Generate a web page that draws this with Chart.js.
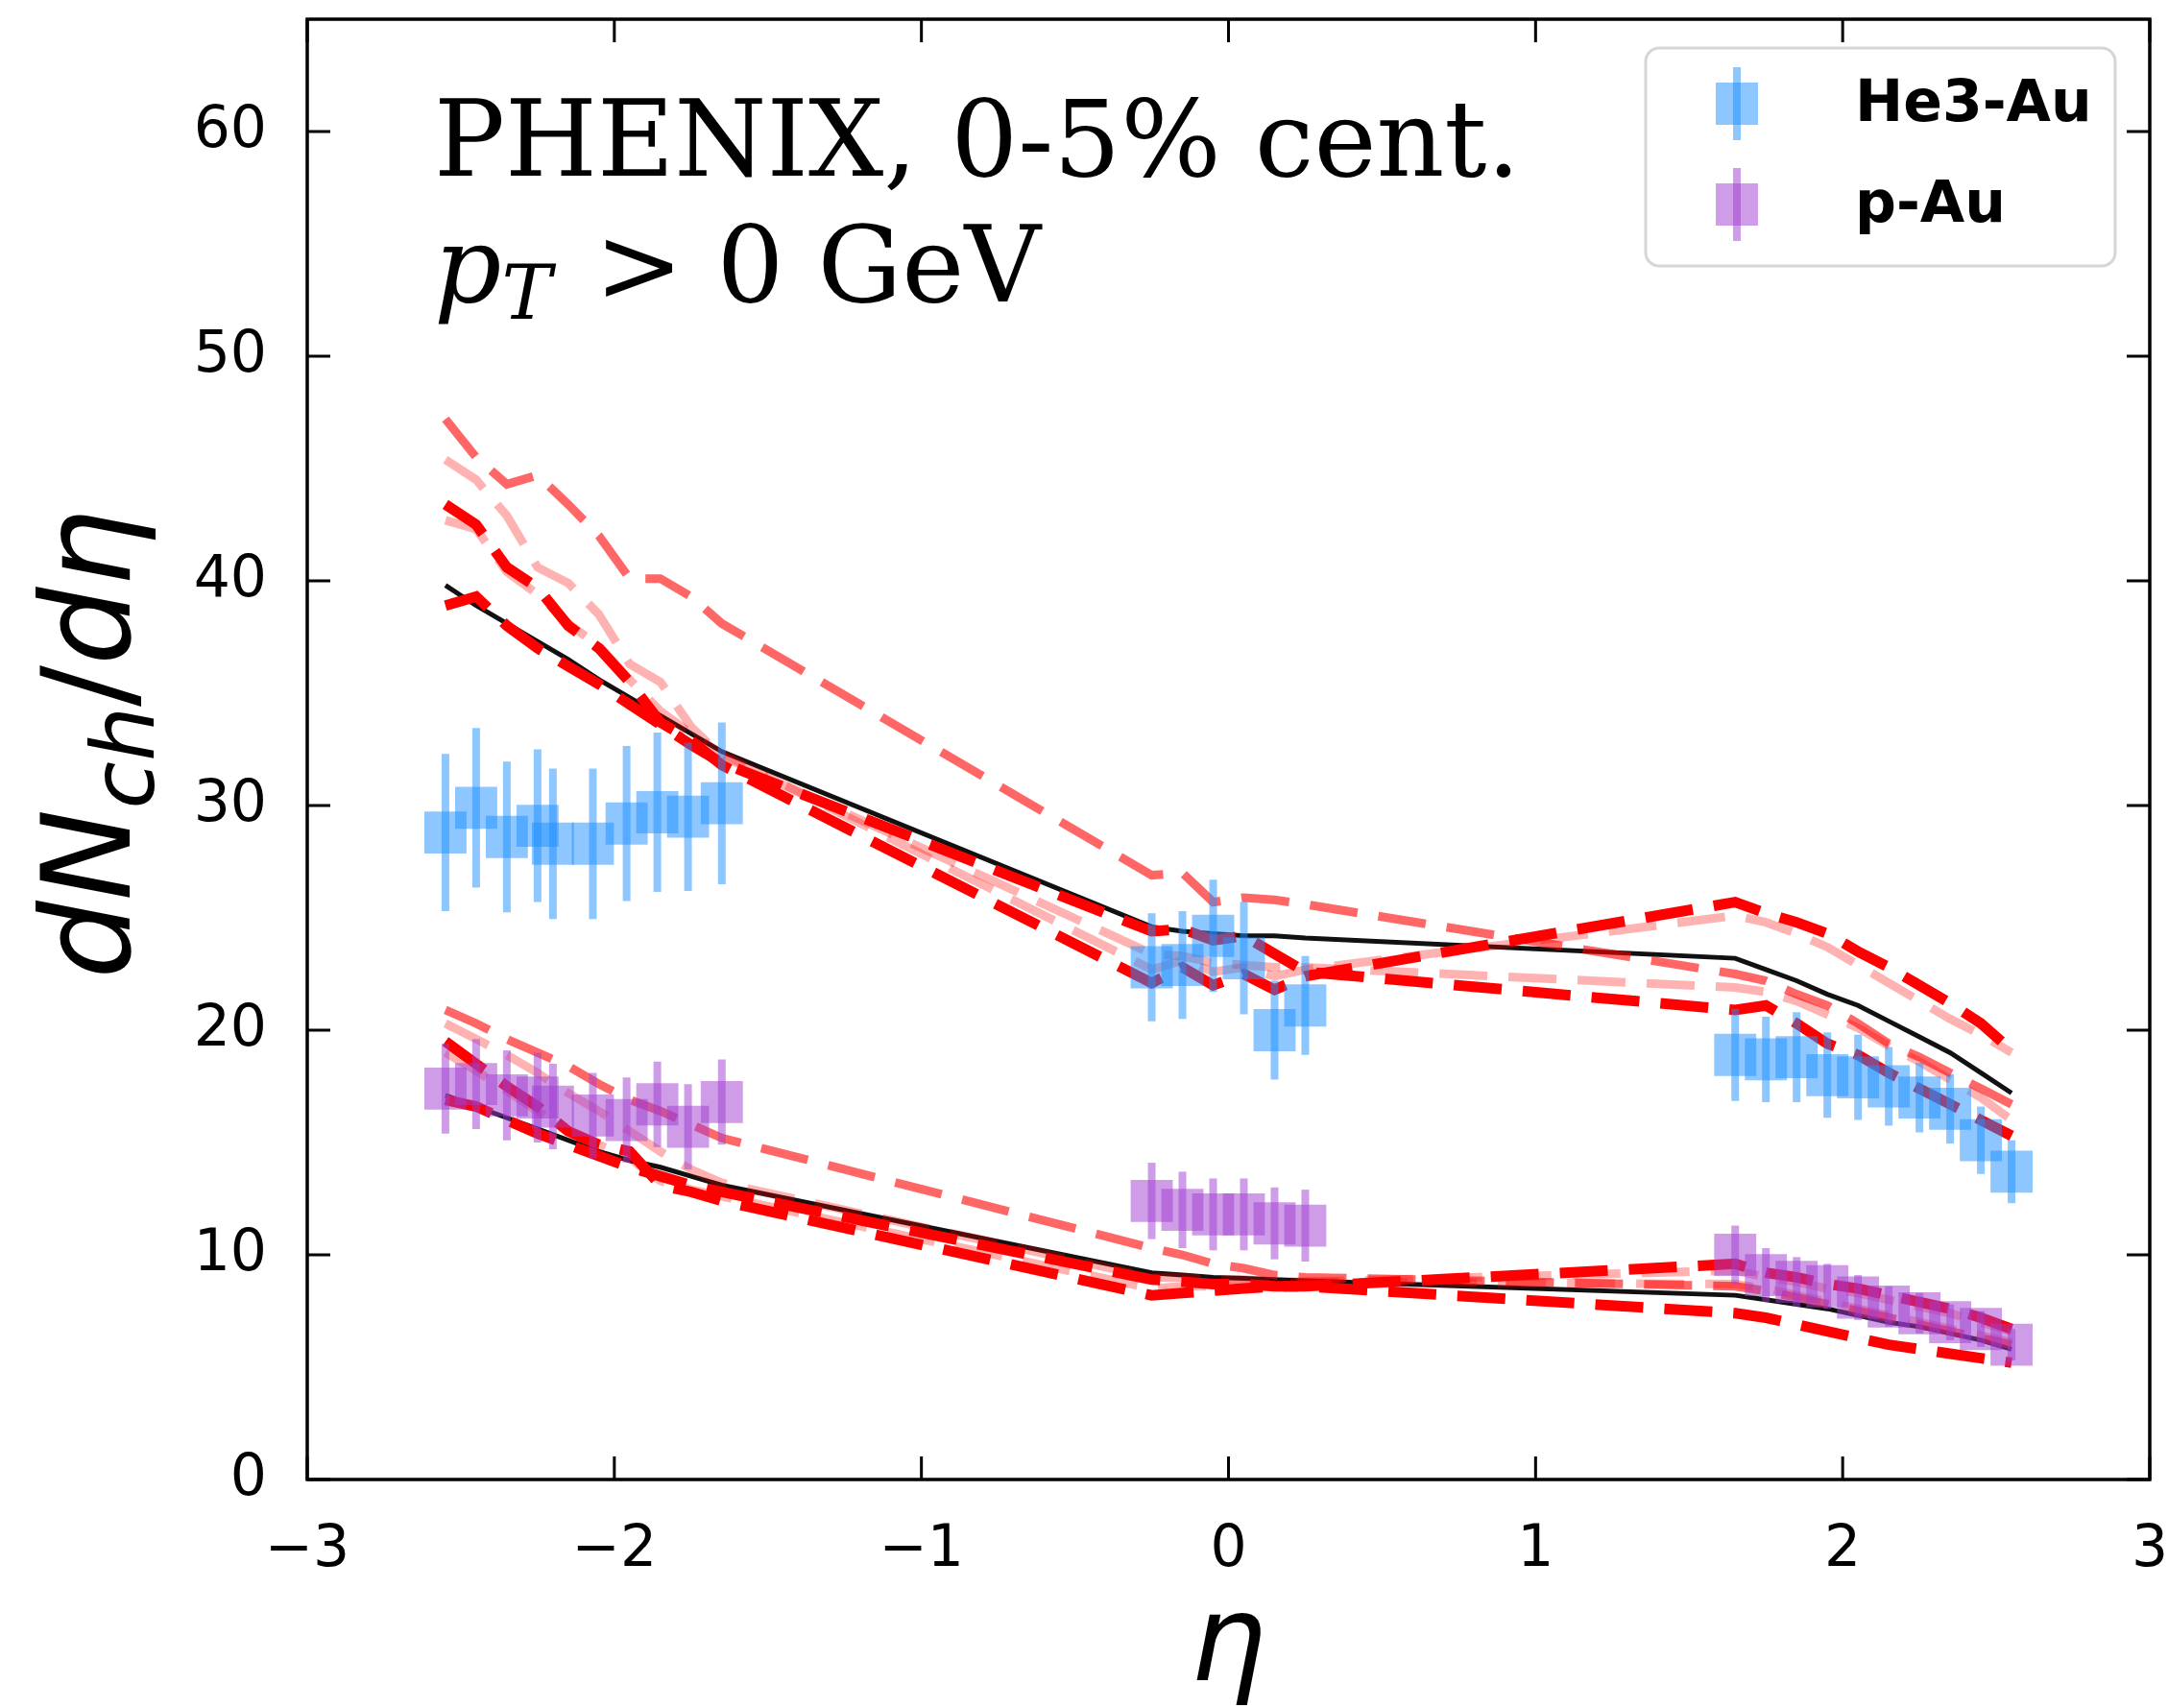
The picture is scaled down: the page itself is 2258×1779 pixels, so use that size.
<!DOCTYPE html>
<html>
<head>
<meta charset="utf-8">
<script src="https://cdn.jsdelivr.net/npm/chart.js@4"></script>
<style>
  html, body { margin: 0; padding: 0; background: #fff; }
</style>
</head>
<body>
<canvas id="chart" width="2258" height="1779"></canvas>
<script>
// axis ticks
const xTicks = [-3, -2, -1, 0, 1, 2, 3];
const yTicks = [0, 10, 20, 30, 40, 50, 60];

// PHENIX points (eta, value, error)
const dataEta = [-2.55, -2.45, -2.35, -2.25, -2.2, -2.07, -1.96, -1.86, -1.76, -1.65,
                 -0.25, -0.15, -0.05, 0.05, 0.15, 0.25,
                 1.65, 1.75, 1.85, 1.95, 2.05, 2.15, 2.25, 2.35, 2.45, 2.55];
const heVal = [28.8, 29.9, 28.6, 29.1, 28.3, 28.3, 29.2, 29.7, 29.5, 30.1,
               22.8, 22.9, 24.2, 23.2, 20.0, 21.1,
               18.9, 18.7, 18.8, 18.0, 17.9, 17.5, 17.0, 16.5, 15.1, 13.7];
const heErr = [3.5, 3.55, 3.35, 3.4, 3.35, 3.35, 3.45, 3.55, 3.3, 3.6,
               2.4, 2.4, 2.5, 2.5, 2.2, 2.2,
               2.05, 1.9, 2.0, 1.9, 1.9, 1.75, 1.55, 1.55, 1.5, 1.4];
const pVal = [17.4, 17.6, 17.1, 17.0, 16.6, 16.2, 16.0, 16.7, 15.7, 16.8,
              12.4, 12.0, 11.8, 11.8, 11.4, 11.3,
              10.0, 9.1, 8.8, 8.6, 8.1, 7.7, 7.4, 7.0, 6.7, 6.0];
const pErr = [2.0, 2.0, 2.0, 2.0, 1.9, 1.9, 1.9, 1.9, 1.9, 1.9,
              1.7, 1.7, 1.6, 1.6, 1.6, 1.6,
              1.3, 1.2, 1.1, 1.0, 1.0, 0.9, 0.9, 0.8, 0.8, 0.7];

// model curves, evaluated at these eta
const modelEta = [-2.55, -2.45, -2.35, -2.25, -2.15, -2.05, -1.95, -1.85, -1.75, -1.65,
                  -0.25, -0.15, -0.05, 0.05, 0.15, 0.25,
                  1.65, 1.75, 1.85, 1.95, 2.05, 2.15, 2.25, 2.35, 2.45, 2.55];

const heBlack  = [39.8, 38.9, 38.1, 37.3, 36.5, 35.6, 34.8, 34.0, 33.2, 32.4,
                  24.6, 24.4, 24.3, 24.2, 24.2, 24.1,
                  23.2, 22.7, 22.2, 21.6, 21.1, 20.4, 19.7, 19.0, 18.1, 17.2];
const heRedA   = [38.9, 39.3, 38.0, 37.0, 36.2, 35.4, 34.5, 33.6, 32.7, 31.9,
                  24.4, 24.5, 24.0, 24.2, 23.4, 22.6,
                  20.9, 21.1, 20.3, 19.4, 18.9, 18.1, 17.4, 16.7, 16.0, 15.3];
const heRedB   = [43.4, 42.5, 40.6, 39.7, 38.0, 37.0, 35.5, 33.7, 32.9, 31.8,
                  22.1, 22.8, 22.0, 22.5, 21.8, 22.4,
                  25.7, 25.2, 24.8, 24.3, 23.5, 22.8, 22.0, 21.2, 20.3, 19.1];
const heSalmon = [47.2, 45.5, 44.3, 44.7, 43.4, 42.0, 40.1, 40.1, 39.3, 38.1,
                  26.9, 27.0, 25.7, 25.9, 25.8, 25.6,
                  22.5, 22.2, 21.6, 21.1, 20.3, 19.4, 18.8, 18.1, 17.4, 16.7];
const hePinkA  = [45.4, 44.5, 42.9, 40.6, 39.9, 38.5, 36.3, 35.5, 33.5, 32.2,
                  23.4, 23.3, 23.0, 22.9, 22.8, 22.8,
                  21.9, 21.7, 21.3, 20.7, 20.1, 19.3, 18.6, 17.8, 17.0, 16.0];
const hePinkB  = [42.7, 42.3, 40.4, 39.4, 38.1, 37.1, 35.6, 34.2, 33.2, 32.3,
                  22.7, 23.1, 22.6, 22.8, 22.4, 22.7,
                  25.1, 24.8, 24.3, 23.7, 22.9, 22.1, 21.3, 20.5, 19.8, 19.0];

const pBlack  = [17.1, 16.6, 16.1, 15.6, 15.1, 14.6, 14.2, 13.9, 13.5, 13.1,
                 9.2, 9.1, 9.0, 8.95, 8.9, 8.85,
                 8.2, 8.0, 7.8, 7.6, 7.3, 7.0, 6.8, 6.5, 6.2, 5.8];
const pRedA   = [16.9, 16.6, 16.0, 15.4, 14.9, 14.4, 13.9, 13.5, 13.1, 12.8,
                 8.9, 8.8, 8.7, 8.7, 8.6, 8.6,
                 7.4, 7.2, 6.9, 6.6, 6.3, 6.0, 5.8, 5.6, 5.4, 5.2];
const pRedB   = [19.5, 18.5, 17.5, 16.6, 15.5, 14.9, 14.6, 13.1, 12.8, 12.4,
                 8.2, 8.3, 8.4, 8.5, 8.6, 8.6,
                 9.6, 9.2, 9.0, 8.7, 8.5, 8.2, 7.9, 7.6, 7.2, 6.7];
const pSalmon = [20.9, 20.3, 19.6, 19.0, 18.4, 17.6, 16.9, 16.4, 15.8, 15.2,
                 10.3, 10.0, 9.6, 9.4, 9.1, 9.0,
                 8.6, 8.4, 8.1, 7.8, 7.5, 7.2, 6.9, 6.6, 6.3, 6.0];
const pPinkA  = [20.3, 19.6, 18.9, 18.1, 17.2, 16.4, 15.5, 14.6, 13.8, 13.2,
                 9.0, 9.0, 8.9, 8.9, 8.8, 8.8,
                 8.7, 8.5, 8.2, 7.9, 7.6, 7.3, 7.0, 6.7, 6.4, 6.1];
const pPinkB  = [19.0, 18.2, 17.3, 16.4, 15.5, 14.9, 14.3, 13.3, 12.9, 12.6,
                 8.5, 8.6, 8.6, 8.7, 8.7, 8.8,
                 9.3, 9.0, 8.8, 8.5, 8.3, 8.0, 7.7, 7.4, 7.0, 6.6];

const heColor = 'rgba(30,144,255,0.5)';
const pColor = 'rgba(160,60,210,0.5)';
const red = 'rgb(255,0,0)';
const salmon = 'rgba(255,0,0,0.6)';
const pink = 'rgba(255,0,0,0.3)';

function modelLine(vals, color, width, dashed, order) {
  return {
    type: 'line',
    data: modelEta.map((x, i) => ({ x: x, y: vals[i] })),
    borderColor: color,
    borderWidth: width,
    borderDash: dashed ? [50, 22] : [],
    pointRadius: 0,
    fill: false,
    tension: 0,
    order: order
  };
}

function points(vals, errs, color, label) {
  return {
    type: 'scatter',
    label: label,
    data: dataEta.map((x, i) => ({ x: x, y: vals[i] })),
    errors: errs,
    pointStyle: 'rect',
    pointRadius: 31,
    backgroundColor: color,
    borderWidth: 0,
    order: 0
  };
}

const datasets = [
  modelLine(heBlack, '#111', 5, false, 5),
  modelLine(pBlack, '#111', 5, false, 5),
  modelLine(hePinkA, pink, 9, true, 4),
  modelLine(hePinkB, pink, 9, true, 4),
  modelLine(pPinkA, pink, 9, true, 4),
  modelLine(pPinkB, pink, 9, true, 4),
  modelLine(heSalmon, salmon, 9, true, 3),
  modelLine(pSalmon, salmon, 9, true, 3),
  modelLine(heRedA, red, 11, true, 2),
  modelLine(heRedB, red, 11, true, 2),
  modelLine(pRedA, red, 11, true, 2),
  modelLine(pRedB, red, 11, true, 2),
  points(heVal, heErr, heColor, 'He3-Au'),
  points(pVal, pErr, pColor, 'p-Au')
];

// vertical error bars drawn right under each marker set
const errorBars = {
  id: 'errorBars',
  beforeDatasetDraw(chart, args) {
    const ds = chart.data.datasets[args.index];
    if (!ds.errors) return;
    const ctx = chart.ctx;
    const x = chart.scales.x, y = chart.scales.y;
    ctx.save();
    ctx.strokeStyle = ds.backgroundColor;
    ctx.lineWidth = 8;
    ds.data.forEach((p, i) => {
      const px = x.getPixelForValue(p.x);
      ctx.beginPath();
      ctx.moveTo(px, y.getPixelForValue(p.y - ds.errors[i]));
      ctx.lineTo(px, y.getPixelForValue(p.y + ds.errors[i]));
      ctx.stroke();
    });
    ctx.restore();
  }
};

// box round the plot + inward ticks on all four sides
const frame = {
  id: 'frame',
  afterDatasetsDraw(chart) {
    const ctx = chart.ctx, a = chart.chartArea;
    const x = chart.scales.x, y = chart.scales.y;
    const len = 24;
    ctx.save();
    ctx.strokeStyle = '#000';
    ctx.lineWidth = 3.5;
    ctx.strokeRect(a.left, a.top, a.right - a.left, a.bottom - a.top);
    ctx.lineWidth = 3;
    ctx.beginPath();
    x.ticks.forEach(t => {
      const px = x.getPixelForValue(t.value);
      ctx.moveTo(px, a.bottom); ctx.lineTo(px, a.bottom - len);
      ctx.moveTo(px, a.top); ctx.lineTo(px, a.top + len);
    });
    y.ticks.forEach(t => {
      const py = y.getPixelForValue(t.value);
      ctx.moveTo(a.left, py); ctx.lineTo(a.left + len, py);
      ctx.moveTo(a.right, py); ctx.lineTo(a.right - len, py);
    });
    ctx.stroke();
    ctx.restore();
  }
};

// run of text pieces with their own fonts / vertical shifts
function drawRun(ctx, pieces, x, y) {
  pieces.forEach(p => {
    ctx.font = p.font;
    ctx.fillText(p.t, x, y + (p.dy || 0));
    x += ctx.measureText(p.t).width + (p.gap || 0);
  });
}
function runWidth(ctx, pieces) {
  let w = 0;
  pieces.forEach(p => { ctx.font = p.font; w += ctx.measureText(p.t).width + (p.gap || 0); });
  return w;
}

const texts = {
  id: 'texts',
  afterDraw(chart) {
    const ctx = chart.ctx;
    ctx.save();
    ctx.fillStyle = '#000';
    ctx.textBaseline = 'alphabetic';
    ctx.textAlign = 'left';

    ctx.font = '110px "DejaVu Serif"';
    ctx.fillText('PHENIX, 0-5% cent.', 452, 183);
    drawRun(ctx, [
      { t: 'p', font: 'italic 110px "DejaVu Serif"' },
      { t: 'T', font: 'italic 78px "DejaVu Serif"', dy: 18, gap: 10 },
      { t: ' > 0 GeV', font: '110px "DejaVu Serif"' }
    ], 452, 314);

    // y title
    const yt = [
      { t: 'dN', font: 'italic 128px "DejaVu Sans"' },
      { t: 'ch', font: 'italic 90px "DejaVu Sans"', dy: 25 },
      { t: '/', font: '128px "DejaVu Sans"' },
      { t: 'd\u03b7', font: 'italic 128px "DejaVu Sans"' }
    ];
    ctx.save();
    ctx.translate(100, 775);
    ctx.rotate(-Math.PI / 2);
    drawRun(ctx, yt, -runWidth(ctx, yt) / 2, 35);
    ctx.restore();

    // x title
    ctx.font = 'italic 125px "DejaVu Sans"';
    ctx.textAlign = 'center';
    ctx.fillText('\u03b7', 1279, 1750);
    ctx.restore();
  }
};

const legendBox = {
  id: 'legendBox',
  afterDraw(chart) {
    const ctx = chart.ctx;
    const items = chart.data.datasets.filter(d => d.errors);
    ctx.save();
    ctx.beginPath();
    ctx.roundRect(1714, 50, 489, 227, 14);
    ctx.fillStyle = 'rgba(255,255,255,0.8)';
    ctx.fill();
    ctx.strokeStyle = '#d6d6d6';
    ctx.lineWidth = 3;
    ctx.stroke();
    items.forEach((d, i) => {
      const cy = 108 + i * 105;
      ctx.fillStyle = d.backgroundColor;
      ctx.fillRect(1809 - 22, cy - 22, 44, 44);
      ctx.strokeStyle = d.backgroundColor;
      ctx.lineWidth = 8;
      ctx.beginPath();
      ctx.moveTo(1809, cy - 38); ctx.lineTo(1809, cy + 38);
      ctx.stroke();
      ctx.fillStyle = '#000';
      ctx.font = 'bold 60px "DejaVu Sans"';
      ctx.textBaseline = 'middle';
      ctx.fillText(d.label, 1932, cy + 2);
    });
    ctx.restore();
  }
};

const fmt = v => (v < 0 ? '\u2212' + (-v) : String(v));

new Chart(document.getElementById('chart'), {
  type: 'scatter',
  data: { datasets: datasets },
  options: {
    responsive: false,
    animation: false,
    devicePixelRatio: 1,
    layout: { autoPadding: false, padding: { left: 0, right: 19, top: 20, bottom: 0 } },
    plugins: { legend: { display: false }, tooltip: { enabled: false } },
    scales: {
      x: {
        type: 'linear', min: -3, max: 3,
        afterBuildTicks: s => { s.ticks = xTicks.map(v => ({ value: v })); },
        afterFit: s => { s.height = 238; s.paddingLeft = 0; s.paddingRight = 0; },
        grid: { display: false },
        border: { display: false },
        ticks: { color: '#000', font: { family: 'DejaVu Sans', size: 60 }, padding: 30,
                 maxRotation: 0, autoSkip: false, callback: fmt }
      },
      y: {
        type: 'linear', min: 0, max: 65,
        afterBuildTicks: s => { s.ticks = yTicks.map(v => ({ value: v })); },
        afterFit: s => { s.width = 320; s.paddingTop = 0; s.paddingBottom = 0; },
        grid: { display: false },
        border: { display: false },
        ticks: { color: '#000', font: { family: 'DejaVu Sans', size: 60 }, padding: 34,
                 autoSkip: false, callback: fmt }
      }
    }
  },
  plugins: [errorBars, frame, texts, legendBox]
});
</script>
</body>
</html>
